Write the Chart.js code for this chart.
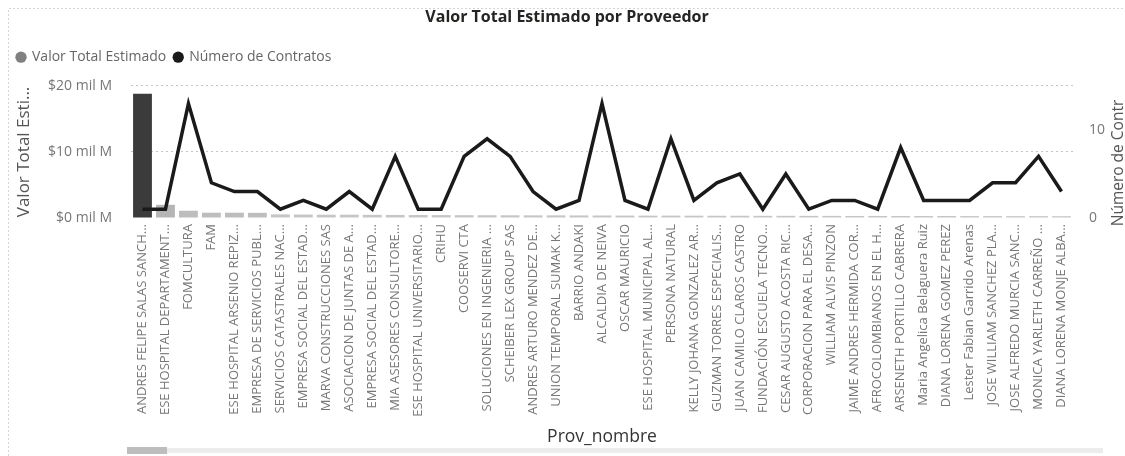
<!DOCTYPE html>
<html>
<head>
<meta charset="utf-8">
<script src="https://cdn.jsdelivr.net/npm/chart.js@4.4.1/dist/chart.umd.min.js"></script>
<style>
  html, body { margin: 0; padding: 0; background: #fff; }
</style>
</head>
<body>
<canvas id="provChart" width="1125" height="456"></canvas>
<script>
// Proveedores (eje X)
const proveedores = [
  'ANDRES FELIPE SALAS SANCH...', 'ESE HOSPITAL DEPARTAMENT...', 'FOMCULTURA', 'FAM',
  'ESE HOSPITAL ARSENIO REPIZ...', 'EMPRESA DE SERVICIOS PUBL...', 'SERVICIOS CATASTRALES NAC...',
  'EMPRESA SOCIAL DEL ESTAD...', 'MARVA CONSTRUCCIONES SAS', 'ASOCIACION DE JUNTAS DE A...',
  'EMPRESA SOCIAL DEL ESTAD...', 'MIA ASESORES CONSULTORE...', 'ESE HOSPITAL UNIVERSITARIO...',
  'CRIHU', 'COOSERVI CTA', 'SOLUCIONES EN INGENIERIA ...', 'SCHEIBER LEX GROUP SAS',
  'ANDRES ARTURO MENDEZ DE...', 'UNION TEMPORAL SUMAK K...', 'BARRIO ANDAKI', 'ALCALDIA DE NEIVA',
  'OSCAR MAURICIO', 'ESE HOSPITAL MUNICIPAL AL...', 'PERSONA NATURAL', 'KELLY JOHANA GONZALEZ AR...',
  'GUZMAN TORRES ESPECIALIS...', 'JUAN CAMILO CLAROS CASTRO', 'FUNDACIÓN ESCUELA TECNO...',
  'CESAR AUGUSTO ACOSTA RIC...', 'CORPORACION PARA EL DESA...', 'WILLIAM ALVIS PINZON',
  'JAIME ANDRES HERMIDA COR...', 'AFROCOLOMBIANOS EN EL H...', 'ARSENETH PORTILLO CABRERA',
  'Maria Angelica Belaguera Ruiz', 'DIANA LORENA GOMEZ PEREZ', 'Lester Fabian Garrido Arenas',
  'JOSE WILLIAM SANCHEZ PLA...', 'JOSE ALFREDO MURCIA SANC...', 'MONICA YARLETH CARREÑO ...',
  'DIANA LORENA MONJE ALBA...'
];

// Valor Total Estimado, en mil M
const valorTotal = [
  18.8, 2.0, 1.1, 0.8, 0.8, 0.78, 0.55, 0.52, 0.5, 0.5,
  0.48, 0.46, 0.45, 0.44, 0.43, 0.42, 0.41, 0.4, 0.4, 0.39,
  0.38, 0.37, 0.36, 0.36, 0.35, 0.34, 0.34, 0.33, 0.33, 0.32,
  0.32, 0.31, 0.31, 0.3, 0.3, 0.3, 0.29, 0.29, 0.28, 0.28, 0.27
];

// Número de Contratos
const numContratos = [
  1, 1, 13, 4, 3, 3, 1, 2, 1, 3,
  1, 7, 1, 1, 7, 9, 7, 3, 1, 2,
  13, 2, 1, 9, 2, 4, 5, 1, 5, 1,
  2, 2, 1, 8, 2, 2, 2, 4, 4, 7, 3
];

const valorMax = 20;
const contratosMax = 15;

const FONT = "'Open Sans', 'Segoe UI', sans-serif";

function barColor(v) {
  if (v > 10) return '#3b3b3b';
  if (v > 1.5) return '#b5b5b5';
  if (v > 0.6) return '#bdbdbd';
  return '#c6c6c6';
}

// extra bits: right axis title, frame, scrollbar
const extras = {
  id: 'extras',
  afterDraw(chart) {
    const ctx = chart.ctx;
    ctx.save();
    // frame
    ctx.strokeStyle = '#d6d6d6';
    ctx.setLineDash([2, 2]);
    ctx.lineWidth = 1;
    ctx.beginPath();
    ctx.moveTo(8.5, 456);
    ctx.lineTo(8.5, 8.5);
    ctx.lineTo(1125, 8.5);
    ctx.stroke();
    ctx.setLineDash([]);
    // scrollbar
    ctx.fillStyle = '#ececec';
    ctx.fillRect(127, 448, 976, 5);
    ctx.fillStyle = '#bdbdbd';
    ctx.fillRect(127, 447, 40, 7);
    // right axis title
    ctx.translate(1119, 163);
    ctx.rotate(-Math.PI / 2);
    ctx.fillStyle = '#555';
    ctx.font = '15.5px ' + FONT;
    ctx.textAlign = 'center';
    ctx.textBaseline = 'middle';
    ctx.fillText('Número de Contr', 0, 0);
    ctx.restore();
  }
};

new Chart(document.getElementById('provChart').getContext('2d'), {
  type: 'bar',
  data: {
    labels: proveedores,
    datasets: [
      {
        type: 'line',
        label: 'Número de Contratos',
        data: numContratos,
        yAxisID: 'y1',
        borderColor: '#1a1a1a',
        backgroundColor: '#1a1a1a',
        borderWidth: 3.5,
        pointRadius: 0,
        tension: 0,
        order: 0
      },
      {
        label: 'Valor Total Estimado',
        data: valorTotal,
        yAxisID: 'y',
        backgroundColor: ctx => barColor(ctx.raw),
        categoryPercentage: 1,
        barPercentage: 0.82,
        order: 1
      }
    ]
  },
  options: {
    responsive: false,
    animation: false,
    layout: { padding: { left: 9, right: 0, top: 0, bottom: 0 } },
    plugins: {
      title: {
        display: true,
        text: 'Valor Total Estimado por Proveedor',
        color: '#252423',
        font: { family: FONT, size: 16, weight: 'bold' },
        padding: { top: 8, bottom: 15 }
      },
      subtitle: {
        display: true,
        text: '',
        weight: 500,
        font: { size: 1 },
        padding: { top: 10.5, bottom: 0 }
      },
      legend: {
        display: true,
        position: 'top',
        align: 'start',
        reverse: true,
        labels: {
          usePointStyle: true,
          boxWidth: 8,
          boxHeight: 8,
          padding: 8,
          color: '#666',
          font: { family: FONT, size: 14 },
          generateLabels(chart) {
            const items = Chart.defaults.plugins.legend.labels.generateLabels(chart);
            items.forEach(it => {
              const gray = it.text === 'Valor Total Estimado';
              it.fillStyle = gray ? '#808080' : '#1a1a1a';
              it.strokeStyle = it.fillStyle;
              it.lineWidth = 0;
              it.pointStyle = 'circle';
            });
            return items;
          }
        }
      },
      tooltip: { enabled: false }
    },
    scales: {
      x: {
        grid: { display: false, drawTicks: false },
        border: { display: false },
        ticks: {
          autoSkip: false,
          minRotation: 90,
          maxRotation: 90,
          padding: 6,
          color: '#777',
          font: { family: FONT, size: 13 }
        },
        title: {
          display: true,
          text: 'Prov_nombre',
          color: '#333',
          font: { family: FONT, size: 17.5 },
          padding: { top: 0, bottom: 8 }
        },
        afterFit(scale) { scale.height = 238; }
      },
      y: {
        position: 'left',
        min: 0,
        max: valorMax,
        grid: {
          display: true,
          drawTicks: false,
          lineWidth: 1,
          color: ctx => (ctx.tick && ctx.tick.value === 0 ? 'rgba(0,0,0,0)' : '#c4c4c4')
        },
        border: { display: false, dash: [2, 3] },
        ticks: {
          stepSize: 10,
          padding: 19,
          color: '#777',
          font: { family: FONT, size: 14 },
          callback: v => '$' + v + ' mil M'
        },
        title: {
          display: true,
          text: 'Valor Total Esti...',
          color: '#555',
          font: { family: FONT, size: 17 },
          padding: { top: 5, bottom: 0 }
        },
        afterFit(scale) { scale.width = 122; }
      },
      y1: {
        position: 'right',
        min: 0,
        max: contratosMax,
        grid: { display: false, drawTicks: false },
        border: { display: false },
        ticks: {
          stepSize: 10,
          padding: 16,
          color: '#777',
          font: { family: FONT, size: 14 },
          callback: v => (v === contratosMax ? null : v)
        },
        afterFit(scale) { scale.width = 52; }
      }
    }
  },
  plugins: [extras]
});
</script>
</body>
</html>
